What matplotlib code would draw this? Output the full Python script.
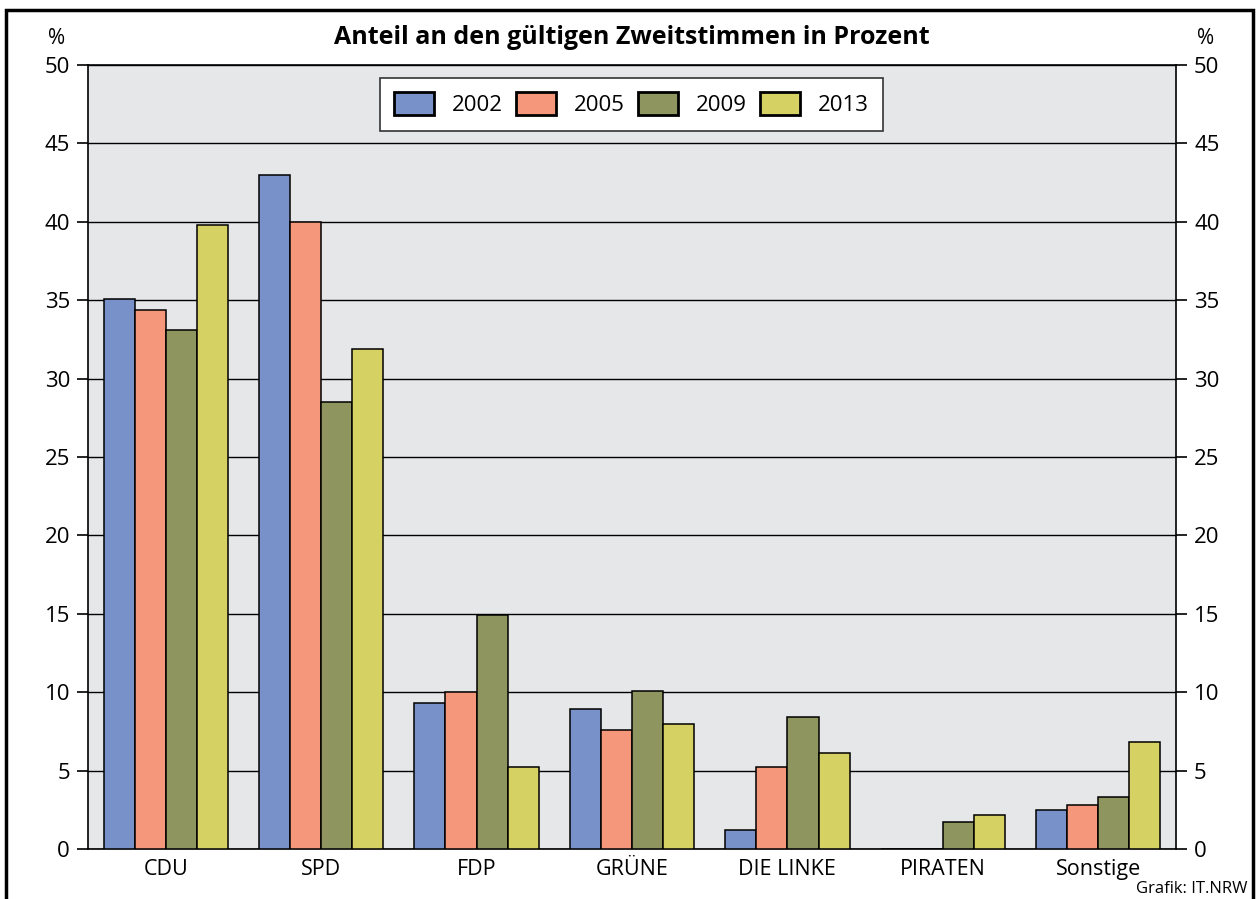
import matplotlib.pyplot as plt
import matplotlib.patches as mpatches
import numpy as np

plt.rcParams['font.family'] = ['Open Sans', 'DejaVu Sans']

# data
parties = ['CDU', 'SPD', 'FDP', 'GRÜNE', 'DIE LINKE', 'PIRATEN', 'Sonstige']
years = ['2002', '2005', '2009', '2013']
v2002 = [35.1, 43.0, 9.3, 8.9, 1.2, 0.0, 2.5]
v2005 = [34.4, 40.0, 10.0, 7.6, 5.2, 0.0, 2.8]
v2009 = [33.1, 28.5, 14.9, 10.1, 8.4, 1.7, 3.3]
v2013 = [39.8, 31.9, 5.2, 8.0, 6.1, 2.2, 6.8]
colors = ['#7891C8', '#F5977A', '#8F955E', '#D6D163']

fig = plt.figure(figsize=(12.57, 8.99), dpi=100)
ax = fig.add_axes([88/1257, 1 - 849/899, (1176-88)/1257, (849-65)/899])
ax.set_facecolor('#E6E7E9')

x = np.arange(len(parties))
w = 0.2
series = [v2002, v2005, v2009, v2013]
for i, vals in enumerate(series):
    ax.bar(x + (i - 1.5) * w, vals, width=w, color=colors[i], edgecolor='black',
           linewidth=1.1, label=years[i], zorder=3)

ax.set_xlim(-0.5, len(parties) - 0.5)
ax.set_ylim(0, 50)
ax.set_yticks(range(0, 51, 5))
ax.yaxis.grid(True, color='black', linewidth=1.0, zorder=1)
ax.set_axisbelow(True)
ax.set_xticks(x)
ax.set_xticklabels(parties, fontsize=15.5)
ax.tick_params(axis='x', length=0, pad=7)
ax.tick_params(axis='y', which='both', direction='out', length=8, width=1.2,
               labelsize=16, pad=5, left=True, right=True,
               labelleft=True, labelright=True)
for s in ax.spines.values():
    s.set_linewidth(1.2)
    s.set_color('black')

leg = ax.legend(loc='upper center', bbox_to_anchor=(0.4995, 0.984), ncol=4,
                fontsize=16, frameon=True, fancybox=False, edgecolor='#333333',
                handlelength=1.8, handleheight=1.25, handletextpad=0.8,
                columnspacing=0.6, borderpad=0.65, borderaxespad=0)
leg.get_frame().set_linewidth(1.2)
leg.get_frame().set_alpha(1)
for h in leg.legend_handles:
    h.set_linewidth(2.0)

fig.text(632/1257, 1 - 37/899, 'Anteil an den gültigen Zweitstimmen in Prozent',
         ha='center', va='center', fontsize=18, fontweight='bold')
fig.text(57/1257, 1 - 38/899, '%', ha='center', va='center', fontsize=15)
fig.text(1206/1257, 1 - 38/899, '%', ha='center', va='center', fontsize=15)
fig.text(1248/1257, 1 - 889/899, 'Grafik: IT.NRW', ha='right', va='center', fontsize=12)

# outer frame
frame = mpatches.Rectangle((6/1257, -0.05), (1253-6)/1257, 1.05 - 10/899,
                           transform=fig.transFigure, fill=False,
                           edgecolor='black', linewidth=2.5)
fig.patches.append(frame)

fig.savefig('out.png', dpi=100)
